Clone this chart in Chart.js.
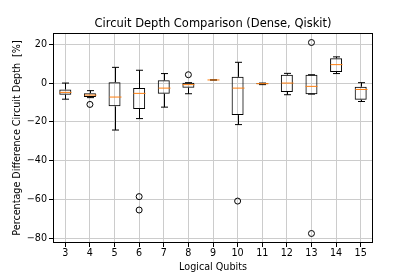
<!DOCTYPE html>
<html>
<head>
<meta charset="utf-8">
<script src="https://cdn.jsdelivr.net/npm/chart.js@4.4.1/dist/chart.umd.min.js"></script>
<style>
  body { margin: 0; background: #fff; }
  canvas { display: block; }
</style>
</head>
<body>
<canvas id="chart" width="415" height="277"></canvas>
<script>
const categories = ['3', '4', '5', '6', '7', '8', '9', '10', '11', '12', '13', '14', '15'];
const whiskerLow = [-8.3, -7.5, -24.2, -18.3, -12.4, -5.5, 1.6, -21.4, -0.8, -6.0, -5.7, 4.9, -9.5];
const q1 = [-6.0, -7.2, -12.0, -13.3, -5.5, -2.4, 1.6, -16.5, -0.6, -4.6, -5.7, 5.7, -8.6];
const medians = [-4.8, -6.2, -7.2, -5.3, -2.6, -0.8, 1.6, -2.6, -0.3, 0.0, -1.7, 9.5, -3.3];
const q3 = [-3.3, -5.2, 0.4, -2.6, 1.4, 0.2, 1.6, 3.2, -0.1, 4.3, 4.3, 12.8, -1.9];
const whiskerHigh = [0.0, -3.9, 8.1, 6.6, 4.9, 0.2, 1.6, 10.7, 0.0, 5.0, 4.3, 13.5, 0.2];
const outlierCats = ['4', '6', '6', '8', '10', '13', '13'];
const outlierValues = [-11.0, -58.5, -65.4, 4.3, -60.8, 20.9, -77.5];
const yTicks = [-80, -60, -40, -20, 0, 20];

Chart.defaults.font.family = 'DejaVu Sans';
Chart.defaults.color = '#000';

// whiskers, caps, medians and the frame, placed with the chart's scales
const boxParts = {
    id: 'boxParts',
    afterDatasetsDraw(chart) {
        const ctx = chart.ctx;
        const x = chart.scales.x;
        const y = chart.scales.y;
        const halfBox = 6;
        const halfCap = 3.5;
        ctx.save();
        ctx.lineWidth = 1;
        categories.forEach((c, i) => {
            const px = Math.round(x.getPixelForValue(i)) + 0.5;
            const yy = v => y.getPixelForValue(v);
            ctx.strokeStyle = '#000';
            ctx.beginPath();
            ctx.moveTo(px, yy(q1[i]));
            ctx.lineTo(px, yy(whiskerLow[i]));
            ctx.moveTo(px, yy(q3[i]));
            ctx.lineTo(px, yy(whiskerHigh[i]));
            ctx.moveTo(px - halfCap, yy(whiskerLow[i]));
            ctx.lineTo(px + halfCap, yy(whiskerLow[i]));
            ctx.moveTo(px - halfCap, yy(whiskerHigh[i]));
            ctx.lineTo(px + halfCap, yy(whiskerHigh[i]));
            ctx.stroke();
            ctx.strokeStyle = '#ff7f0e';
            ctx.beginPath();
            ctx.moveTo(px - halfBox, yy(medians[i]));
            ctx.lineTo(px + halfBox, yy(medians[i]));
            ctx.stroke();
        });
        const a = chart.chartArea;
        ctx.strokeStyle = '#000';
        ctx.strokeRect(a.left + 0.5, a.top + 0.5, a.width - 1, a.height - 1);
        ctx.restore();
    }
};

new Chart(document.getElementById('chart'), {
    type: 'bar',
    data: {
        labels: categories,
        datasets: [
            {
                label: 'box',
                data: categories.map((c, i) => [q1[i], q3[i]]),
                backgroundColor: 'rgba(0,0,0,0)',
                borderColor: '#000',
                borderWidth: 1,
                borderSkipped: false,
                inflateAmount: 0,
                barThickness: 12,
                grouped: false
            },
            {
                type: 'scatter',
                label: 'outliers',
                data: outlierCats.map((c, i) => ({ x: c, y: outlierValues[i] })),
                pointStyle: 'circle',
                pointRadius: 3,
                pointBackgroundColor: 'rgba(0,0,0,0)',
                pointBorderColor: '#000',
                pointBorderWidth: 1
            }
        ]
    },
    options: {
        responsive: false,
        animation: false,
        layout: { padding: { left: 0, right: 42, top: 0, bottom: 0 } },
        plugins: {
            legend: { display: false },
            tooltip: { enabled: false },
            title: {
                display: true,
                text: 'Circuit Depth Comparison (Dense, Qiskit)',
                fullSize: false,
                font: { size: 11.5, weight: 'normal' },
                padding: { top: 17, bottom: 2.2 }
            }
        },
        scales: {
            x: {
                type: 'category',
                offset: true,
                grid: { offset: false, color: '#cccccc', tickColor: '#000', tickLength: 4 },
                border: { display: false },
                ticks: { autoSkip: false, maxRotation: 0, padding: 1, font: { size: 9.6 } },
                title: { display: true, text: 'Logical Qubits', font: { size: 9.6 }, padding: { top: 0, bottom: 4 } },
                afterFit: scale => { scale.height = 34; }
            },
            y: {
                min: -82.4,
                max: 25.8,
                grid: { color: '#cccccc', tickColor: '#000', tickLength: 4 },
                border: { display: false },
                afterBuildTicks: scale => { scale.ticks = yTicks.map(v => ({ value: v })); },
                ticks: {
                    padding: 2,
                    font: { size: 9.6 },
                    callback: v => (v < 0 ? '\u2212' + Math.abs(v) : String(v))
                },
                title: {
                    display: true,
                    text: 'Percentage Difference Circuit Depth  [%]',
                    font: { size: 9.6 },
                    padding: { top: 12, bottom: 0 }
                },
                afterFit: scale => { scale.width = 53; }
            }
        }
    },
    plugins: [boxParts]
});
</script>
</body>
</html>
